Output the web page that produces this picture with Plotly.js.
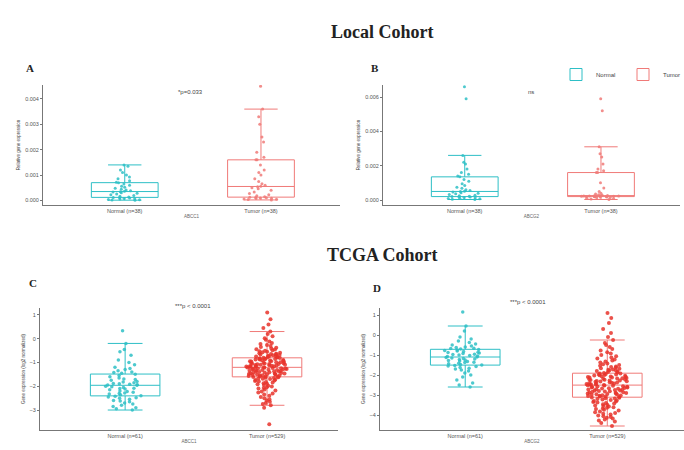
<!DOCTYPE html>
<html>
<head>
<meta charset="utf-8">
<script src="https://cdn.plot.ly/plotly-3.0.1.min.js"></script>
<style>html,body{margin:0;padding:0;background:#fff;}#chart{width:684px;height:450px;}</style>
</head>
<body>
<div id="chart"></div>
<script>
// ---------- Data ----------
const groupNames = ["Normal", "Tumor"];
const localCats = ["Normal (n=38)", "Tumor (n=38)"];
const tcgaCats = ["Normal (n=61)", "Tumor (n=529)"];
const geneA = "ABCC1";
const geneB = "ABCG2";
const pLabelA = "*p=0.033";
const pLabelB = "ns";
const pLabelC = "***p < 0.0001";
const pLabelD = "***p < 0.0001";

// Panel A : relative gene expression, local cohort
const aNormal = [0.00001,0.00002,0.00003,0.00004,0.00006,0.00007,0.00008,0.0001,0.00011,0.00012,
  0.00014,0.00016,0.00019,0.00022,0.00025,0.00028,0.0003,0.00033,0.00034,0.00036,
  0.00038,0.00041,0.00044,0.00048,0.00052,0.00056,0.0006,0.00065,0.0007,0.00072,
  0.00078,0.00085,0.00092,0.001,0.0011,0.0012,0.00135,0.0014];
const aTumor = [0.00002,0.00004,0.00005,0.00006,0.00008,0.00009,0.0001,0.00011,0.00012,0.00013,
  0.00015,0.00018,0.00022,0.00027,0.00033,0.0004,0.00046,0.0005,0.00054,0.00056,
  0.0006,0.00066,0.00075,0.00085,0.001,0.0011,0.0012,0.0014,0.0016,0.0016,
  0.0017,0.0019,0.0023,0.0025,0.003,0.0033,0.0036,0.0045];

// Panel B : relative gene expression, local cohort
const bNormal = [0.00003,0.00005,0.00007,0.00009,0.00011,0.00013,0.00015,0.00017,0.00019,0.0002,
  0.00022,0.00025,0.00028,0.00032,0.00036,0.0004,0.00043,0.00046,0.00049,0.00051,
  0.00055,0.0006,0.00068,0.00075,0.00085,0.00095,0.0011,0.0012,0.00135,0.0014,
  0.0015,0.0016,0.0018,0.0021,0.0022,0.0026,0.0059,0.0066];
const bTumor = [0.00003,0.00006,0.00009,0.00011,0.00013,0.00015,0.00017,0.00018,0.00019,0.0002,
  0.00021,0.00021,0.00022,0.00022,0.00023,0.00023,0.00024,0.00024,0.00025,0.00025,
  0.00026,0.00028,0.0003,0.00035,0.0004,0.0005,0.0007,0.001,0.0016,0.0016,
  0.0017,0.0018,0.0021,0.0025,0.0027,0.0031,0.0052,0.0059];

// Panel C : TCGA log2 expression
const cNormal = [0.33,-0.2,-0.45,-0.55,-0.7,-0.9,-1.0,-1.1,-1.2,-1.25,-1.3,-1.35,-1.4,-1.42,-1.45,
  -1.5,-1.55,-1.6,-1.65,-1.7,-1.72,-1.75,-1.8,-1.82,-1.85,-1.88,-1.9,-1.92,-1.94,-1.95,
  -1.96,
  -2.0,-2.02,-2.05,-2.08,-2.1,-2.12,-2.15,-2.2,-2.22,-2.25,-2.28,-2.3,-2.33,-2.36,-2.4,
  -2.42,-2.45,-2.48,-2.5,-2.55,-2.6,-2.62,-2.65,-2.7,-2.75,-2.8,-2.85,-2.9,-2.95,-3.0];
const cTumor = [1.1,0.82,0.6,0.45,0.3,0.2,0.1,0.02,-0.05,-0.12,-0.18,-0.22,-0.27,-0.31,-0.35,-0.38,
  -0.41,-0.44,-0.46,-0.49,-0.51,-0.53,-0.55,-0.57,-0.59,-0.61,-0.63,-0.64,-0.66,-0.67,
  -0.69,-0.7,-0.72,-0.73,-0.74,-0.75,-0.77,-0.78,-0.79,-0.8,
  -0.81,-0.82,-0.84,-0.84,-0.85,-0.87,-0.88,-0.88,-0.9,-0.91,-0.92,-0.93,-0.95,-0.95,-0.96,
  -0.98,-0.99,-0.99,-1.01,-1.02,-1.03,-1.04,-1.05,-1.07,-1.07,-1.08,-1.1,-1.1,-1.11,-1.12,
  -1.13,-1.14,-1.15,-1.16,-1.16,-1.17,-1.18,-1.19,-1.19,-1.2,
  -1.21,-1.22,-1.23,-1.24,-1.25,-1.25,-1.27,-1.28,-1.29,-1.3,-1.31,-1.32,-1.32,-1.34,-1.35,
  -1.36,-1.37,-1.38,-1.38,-1.4,-1.41,-1.42,-1.43,-1.44,-1.45,-1.46,-1.46,-1.48,-1.49,-1.5,
  -1.51,-1.52,-1.53,-1.54,-1.55,-1.56,-1.57,-1.58,-1.59,-1.6,
  -1.61,-1.62,-1.64,-1.65,-1.67,-1.69,-1.7,-1.72,-1.74,-1.76,-1.78,-1.8,-1.82,-1.84,-1.87,
  -1.9,-1.92,-1.95,-1.98,-2.01,-2.04,-2.07,-2.1,-2.14,-2.18,-2.22,-2.26,-2.3,-2.35,-2.4,
  -2.45,-2.5,-2.55,-2.6,-2.65,-2.7,-2.75,-2.8,-2.9,-3.6];

// Panel D : TCGA log2 expression
const dNormal = [1.15,0.45,0.2,-0.1,-0.2,-0.3,-0.38,-0.45,-0.5,-0.55,-0.6,-0.63,-0.66,-0.68,-0.7,
  -0.72,-0.75,-0.78,-0.8,-0.83,-0.86,-0.88,-0.9,-0.93,-0.96,-0.98,-1.0,-1.03,-1.05,-1.08,
  -1.1,
  -1.12,-1.15,-1.17,-1.2,-1.22,-1.25,-1.28,-1.3,-1.33,-1.36,-1.38,-1.41,-1.44,-1.47,-1.5,
  -1.52,-1.55,-1.58,-1.62,-1.66,-1.7,-1.75,-1.8,-1.9,-2.0,-2.1,-2.25,-2.4,-2.5,-2.6];
const dTumor = [1.1,0.85,0.6,0.3,0.1,-0.1,-0.25,-0.4,-0.5,-0.6,-0.7,-0.78,-0.86,-0.93,-1.0,
  -1.06,-1.12,-1.18,-1.23,-1.28,-1.33,-1.38,-1.42,-1.46,-1.5,-1.54,-1.57,-1.6,-1.63,-1.66,
  -1.69,-1.72,-1.74,-1.76,-1.78,-1.8,-1.83,-1.85,-1.87,-1.9,
  -1.92,-1.93,-1.95,-1.96,-1.98,-2.0,-2.01,-2.03,-2.04,-2.06,-2.07,-2.09,-2.1,-2.12,-2.13,
  -2.15,-2.16,-2.18,-2.19,-2.21,-2.22,-2.24,-2.25,-2.27,-2.28,-2.3,-2.31,-2.33,-2.34,-2.36,
  -2.37,-2.39,-2.4,-2.42,-2.43,-2.45,-2.46,-2.47,-2.49,-2.5,
  -2.51,-2.53,-2.54,-2.56,-2.57,-2.59,-2.6,-2.62,-2.63,-2.65,-2.66,-2.68,-2.69,-2.71,-2.72,
  -2.74,-2.75,-2.77,-2.78,-2.8,-2.81,-2.83,-2.84,-2.86,-2.87,-2.89,-2.9,-2.92,-2.93,-2.95,
  -2.96,-2.98,-2.99,-3.01,-3.02,-3.04,-3.05,-3.07,-3.08,-3.1,
  -3.12,-3.14,-3.16,-3.18,-3.2,-3.22,-3.25,-3.27,-3.3,-3.32,-3.35,-3.38,-3.4,-3.43,-3.46,
  -3.49,-3.52,-3.55,-3.58,-3.61,-3.64,-3.67,-3.7,-3.74,-3.78,-3.82,-3.86,-3.9,-3.94,-3.98,
  -4.02,-4.06,-4.1,-4.14,-4.18,-4.22,-4.27,-4.32,-4.4,-4.55];

// ---------- Styling ----------
const W = 684, H = 450;
const teal = "#2EBFC6", pink = "#F07A78", red = "#E8342C";
const sans = "Liberation Sans, Arial, sans-serif";
const serif = "Liberation Serif, Times New Roman, serif";
const px = v => v / W;
const py = v => 1 - v / H;

function boxTrace(y, cat, name, xa, ya, lineColor, ptColor, size, showlegend) {
  return {
    type: "box", y: y, x0: cat, name: name,
    xaxis: xa, yaxis: ya, legendgroup: name, showlegend: showlegend,
    boxpoints: "all", jitter: 0.6, pointpos: 0,
    fillcolor: "rgba(255,255,255,0)",
    line: {color: lineColor, width: 1},
    marker: {color: ptColor, size: size, opacity: 0.85, line: {width: 0}},
    hoverinfo: "y"
  };
}

const data = [
  boxTrace(aNormal, localCats[0], groupNames[0], "x", "y", teal, teal, 3, true),
  boxTrace(aTumor, localCats[1], groupNames[1], "x", "y", pink, pink, 3, true),
  boxTrace(bNormal, localCats[0], groupNames[0], "x2", "y2", teal, teal, 3, false),
  boxTrace(bTumor, localCats[1], groupNames[1], "x2", "y2", pink, pink, 3, false),
  boxTrace(cNormal, tcgaCats[0], groupNames[0], "x3", "y3", teal, teal, 3.5, false),
  boxTrace(cTumor, tcgaCats[1], groupNames[1], "x3", "y3", pink, red, 4, false),
  boxTrace(dNormal, tcgaCats[0], groupNames[0], "x4", "y4", teal, teal, 3.5, false),
  boxTrace(dTumor, tcgaCats[1], groupNames[1], "x4", "y4", pink, red, 4, false)
];

function xax(x0, x1, y0, y1, cats, range, title) {
  return {
    domain: [px(x0), px(x1)], anchor: "free", position: py(y0),
    type: "category", categoryorder: "array", categoryarray: cats,
    range: range, showline: true, linecolor: "#777", linewidth: 1,
    ticks: "", tickfont: {family: sans, size: 5.5, color: "#555"},
    showgrid: false, zeroline: false, fixedrange: true,
    title: {text: title, font: {family: sans, size: 4.5, color: "#666"}, standoff: 2}
  };
}
function yax(y0, y1, range, extra, title) {
  return Object.assign({
    domain: [py(y0), py(y1)], range: range,
    showline: true, linecolor: "#777", linewidth: 1,
    ticks: "outside", ticklen: 2, tickcolor: "#777",
    tickfont: {family: sans, size: 5.5, color: "#555"},
    showgrid: false, zeroline: false, fixedrange: true,
    title: {text: title, font: {family: sans, size: 4.5, color: "#444"}, standoff: 4}
  }, extra);
}

const layout = {
  width: W, height: H,
  margin: {l: 0, r: 0, t: 0, b: 0, autoexpand: false},
  paper_bgcolor: "#fff", plot_bgcolor: "rgba(0,0,0,0)",
  boxmode: "overlay", boxgap: 0.3,
  showlegend: true,
  legend: {orientation: "h", x: px(556), y: py(60), xanchor: "left", yanchor: "top",
    font: {family: sans, size: 6, color: "#444"}, bgcolor: "rgba(0,0,0,0)",
    itemwidth: 30, entrywidth: 22, entrywidthmode: "pixels", tracegroupgap: 0},
  xaxis: Object.assign(xax(43, 340, 205, 85, localCats, [-0.6, 1.58], geneA), {anchor: "y"}),
  yaxis: Object.assign(yax(205, 85, [-0.00018, 0.00455],
    {tickvals: [0, 0.001, 0.002, 0.003, 0.004], ticktext: ["0.000","0.001","0.002","0.003","0.004"]},
    "Relative gene expression"), {anchor: "x"}),
  xaxis2: Object.assign(xax(383, 680, 205, 85, localCats, [-0.6, 1.58], geneB), {anchor: "y2"}),
  yaxis2: Object.assign(yax(205, 85, [-0.00029, 0.0067],
    {tickvals: [0, 0.002, 0.004, 0.006], ticktext: ["0.000","0.002","0.004","0.006"]},
    "Relative gene expression"), {anchor: "x2"}),
  xaxis3: Object.assign(xax(40, 338, 430, 308, tcgaCats, [-0.6, 1.5], geneA), {anchor: "y3"}),
  yaxis3: Object.assign(yax(430, 308, [-3.84, 1.29],
    {tickvals: [1, 0, -1, -2, -3]},
    "Gene expression (log2 normalized)"), {anchor: "x3"}),
  xaxis4: Object.assign(xax(380, 684, 430, 308, tcgaCats, [-0.6, 1.54], geneB), {anchor: "y4"}),
  yaxis4: Object.assign(yax(430, 308, [-4.75, 1.35],
    {tickvals: [1, 0, -1, -2, -3, -4]},
    "Gene expression (log2 normalized)"), {anchor: "x4"}),
  annotations: [
    {text: "<b>Local Cohort</b>", x: px(382), y: py(32), font: {family: serif, size: 18, color: "#222"}},
    {text: "<b>TCGA Cohort</b>", x: px(382), y: py(255), font: {family: serif, size: 18, color: "#222"}},
    {text: "<b>A</b>", x: px(30), y: py(68), font: {family: serif, size: 11, color: "#222"}},
    {text: "<b>B</b>", x: px(375), y: py(68), font: {family: serif, size: 11, color: "#222"}},
    {text: "<b>C</b>", x: px(33), y: py(283), font: {family: serif, size: 11, color: "#222"}},
    {text: "<b>D</b>", x: px(377), y: py(288), font: {family: serif, size: 11, color: "#222"}},
    {text: pLabelA, x: px(190), y: py(92), font: {family: sans, size: 6, color: "#444"}},
    {text: pLabelB, x: px(531), y: py(92), font: {family: sans, size: 6, color: "#444"}},
    {text: pLabelC, x: px(193), y: py(306), font: {family: sans, size: 6, color: "#444"}},
    {text: pLabelD, x: px(528), y: py(302), font: {family: sans, size: 6, color: "#444"}}
  ].map(a => Object.assign({xref: "paper", yref: "paper", showarrow: false, xanchor: "center", yanchor: "middle"}, a))
};

Plotly.newPlot("chart", data, layout, {staticPlot: true, displayModeBar: false});
</script>
</body>
</html>
